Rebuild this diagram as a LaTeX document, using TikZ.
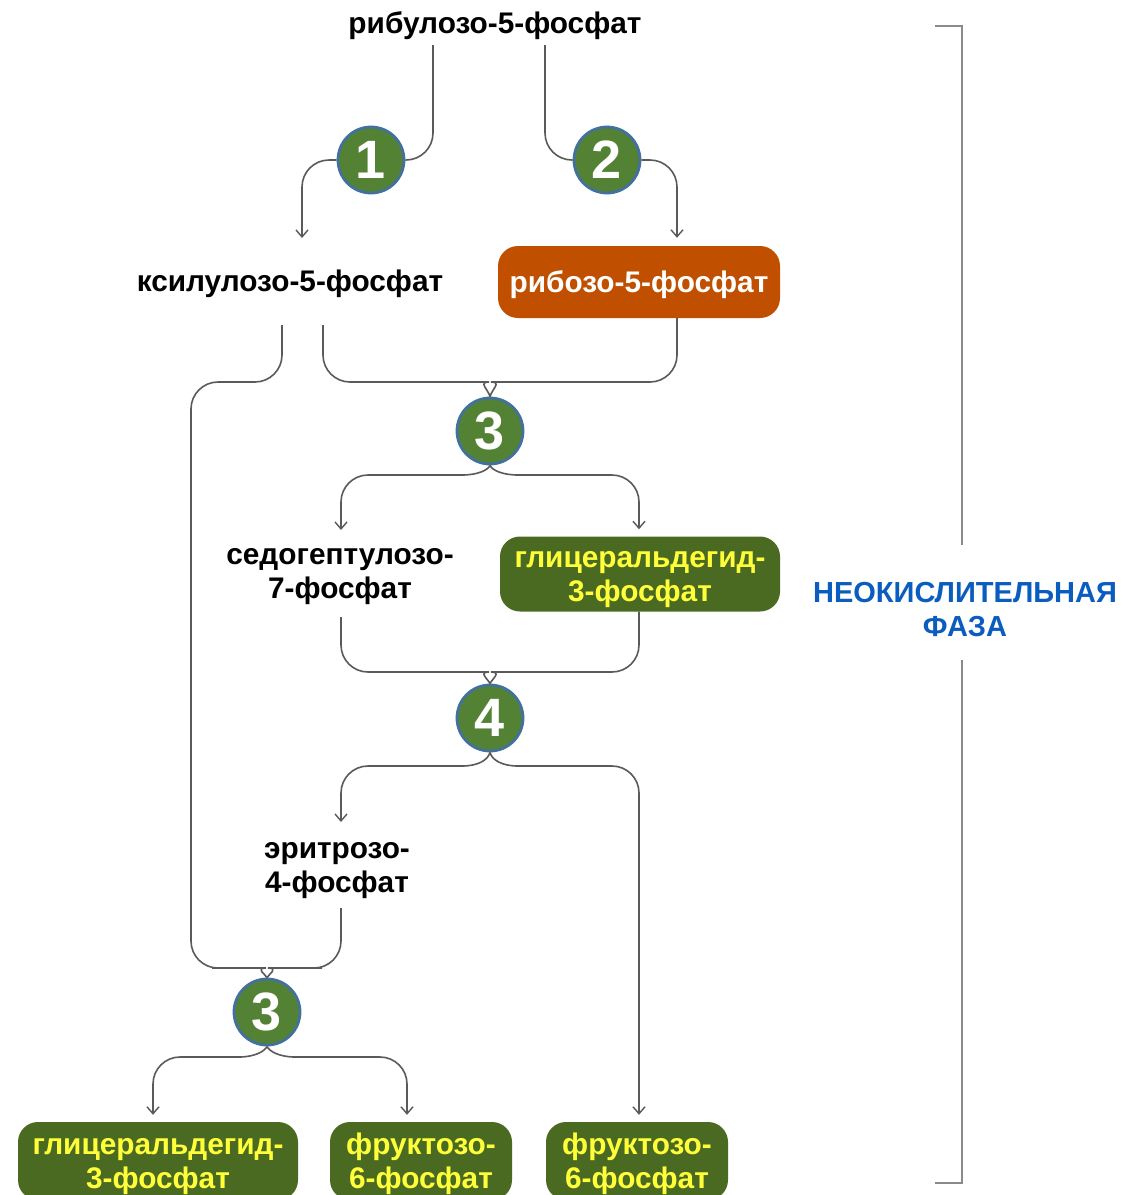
\documentclass[tikz,border=0pt]{standalone}
\usepackage{fontspec}
\setmainfont{Liberation Sans}
\usetikzlibrary{arrows.meta,calc,backgrounds}

\definecolor{linegray}{HTML}{5A5A5A}
\definecolor{bracketgray}{HTML}{8A8A8A}
\definecolor{stepgreen}{HTML}{548235}
\definecolor{stepring}{HTML}{41719C}
\definecolor{boxgreen}{HTML}{4A6A22}
\definecolor{boxorange}{HTML}{C05000}
\definecolor{textyellow}{HTML}{FFFF3A}
\definecolor{phaseblue}{HTML}{0B5CBF}

% centred label whose lines are spaced by struts, set slightly below the node centre
\newcommand{\mtext}[1]{\raisebox{-3.5pt}[\height][\depth]{\begin{tabular}{@{}c@{}}#1\end{tabular}}}

\tikzset{
  txt/.style={font=\bfseries\fontsize{29.8}{34}\selectfont, inner sep=0pt},
  plain/.style={txt, text=black},
  greenbox/.style={txt, fill=boxgreen, text=textyellow, rounded corners=20pt},
  orangebox/.style={txt, fill=boxorange, text=white, rounded corners=20pt},
  stepnum/.style={circle, fill=stepgreen, draw=stepring, line width=2.8pt,
    minimum size=66pt, inner sep=0pt, text=white,
    font=\bfseries\fontsize{54}{54}\selectfont},
  conn/.style={draw=linegray, line width=1.6pt},
  arr/.style={conn, -{Straight Barb[length=7pt,width=12pt,line width=1.4pt]}},
  rc/.style={rounded corners=27pt},
  bracket/.style={draw=bracketgray, line width=2.4pt},
}

\begin{document}
\begin{tikzpicture}[x=1pt, y=-1pt]
  \useasboundingbox (0,0) rectangle (1133,1195);

  % metabolites
  \node[plain] (title) at (495,23) {\mtext{рибулозо-5-фосфат}};
  \node[plain] (ksil) at (290,281) {\mtext{ксилулозо-5-фосфат}};
  \node[orangebox, minimum width=282pt, minimum height=72pt] (ribose) at (639,282) {\mtext{рибозо-5-фосфат}};
  \node[plain] (sedo) at (340,571) {\mtext{седогептулозо-\\7-фосфат}};
  \node[greenbox, minimum width=280pt, minimum height=75pt] (glycA) at (640,574) {\mtext{глицеральдегид-\\3-фосфат}};
  \node[plain] (ery) at (337,865) {\mtext{эритрозо-\\4-фосфат}};
  \node[greenbox, minimum width=280pt, minimum height=78pt] (glycB) at (158,1161) {\mtext{глицеральдегид-\\3-фосфат}};
  \node[greenbox, minimum width=182pt, minimum height=78pt] (fruA) at (421,1161) {\mtext{фруктозо-\\6-фосфат}};
  \node[greenbox, minimum width=182pt, minimum height=78pt] (fruB) at (637,1161) {\mtext{фруктозо-\\6-фосфат}};

  % enzyme steps
  \node[stepnum] (c1) at (371,160) {1};
  \node[stepnum] (c2) at (607,160) {2};
  \node[stepnum] (c3) at (490,431) {3};
  \node[stepnum] (c4) at (490,718) {4};
  \node[stepnum] (c3b) at (267,1012) {3};

  % phase label and bracket
  \node[txt, text=phaseblue, font=\bfseries\fontsize{29}{34}\selectfont] (phase) at (965,609) {\mtext{НЕОКИСЛИТЕЛЬНАЯ\\ФАЗА}};
  \draw[bracket] (935,26) -- (962,26) -- (962,545);
  \draw[bracket] (962,660) -- (962,1183) -- (935,1183);

  \begin{scope}[on background layer]
    \fill[white] (0,0) rectangle (1133,1195);
    % step 1 and 2
    \draw[conn,rc] ($(title)+(-62,22)$) |- (c1.east);
    \draw[arr,rc] (c1.west) -| ($(ksil)+(12,-43)$);
    \draw[conn,rc] ($(title)+(50,22)$) |- (c2.west);
    \draw[arr,rc] (c2.east) -| ($(ribose.north)+(38,-8)$);
    % into step 3
    \draw[conn] [rc] ($(ksil)+(33,44)$) |- (462,382) [sharp corners]
      .. controls (478,382) and (488,389) .. (c3.north);
    \draw[conn] [rc] ($(ribose.south)+(38,0)$) |- (518,382) [sharp corners]
      .. controls (502,382) and (492,389) .. (c3.north);
    % out of step 3
    \draw[arr] (c3.south) .. controls (488,470) and (478,475) .. (462,475)
      [rc] -| ($(sedo)+(1,-41)$);
    \draw[arr] (c3.south) .. controls (492,470) and (502,475) .. (518,475)
      [rc] -| ($(glycA.north)+(-1,-7)$);
    % into step 4
    \draw[conn] [rc] ($(sedo)+(1,46)$) |- (462,672) [sharp corners]
      .. controls (478,672) and (488,679) .. (c4.north);
    \draw[conn] [rc] ($(glycA.south)+(-1,0)$) |- (518,672) [sharp corners]
      .. controls (502,672) and (492,679) .. (c4.north);
    % out of step 4
    \draw[arr] (c4.south) .. controls (488,760) and (478,766) .. (462,766)
      [rc] -| ($(ery)+(4,-43)$);
    \draw[arr] (c4.south) .. controls (492,760) and (502,766) .. (518,766)
      [rc] -| ($(fruB.north)+(2,-7)$);
    % second step 3
    \draw[conn] [rc] ($(ksil)+(-8,44)$) |- (191,382) -- (191,968) -- (239,968) [sharp corners]
      .. controls (255,968) and (265,974) .. (c3b.north);
    \draw[conn] [rc] ($(ery)+(4,43)$) |- (295,968) [sharp corners]
      .. controls (279,968) and (269,974) .. (c3b.north);
    \draw[arr] (c3b.south) .. controls (265,1051) and (255,1057) .. (239,1057)
      [rc] -| ($(glycB.north)+(-5,-7)$);
    \draw[arr] (c3b.south) .. controls (269,1051) and (279,1057) .. (295,1057)
      [rc] -| ($(fruA.north)+(-14,-7)$);
  \end{scope}
\end{tikzpicture}
\end{document}
